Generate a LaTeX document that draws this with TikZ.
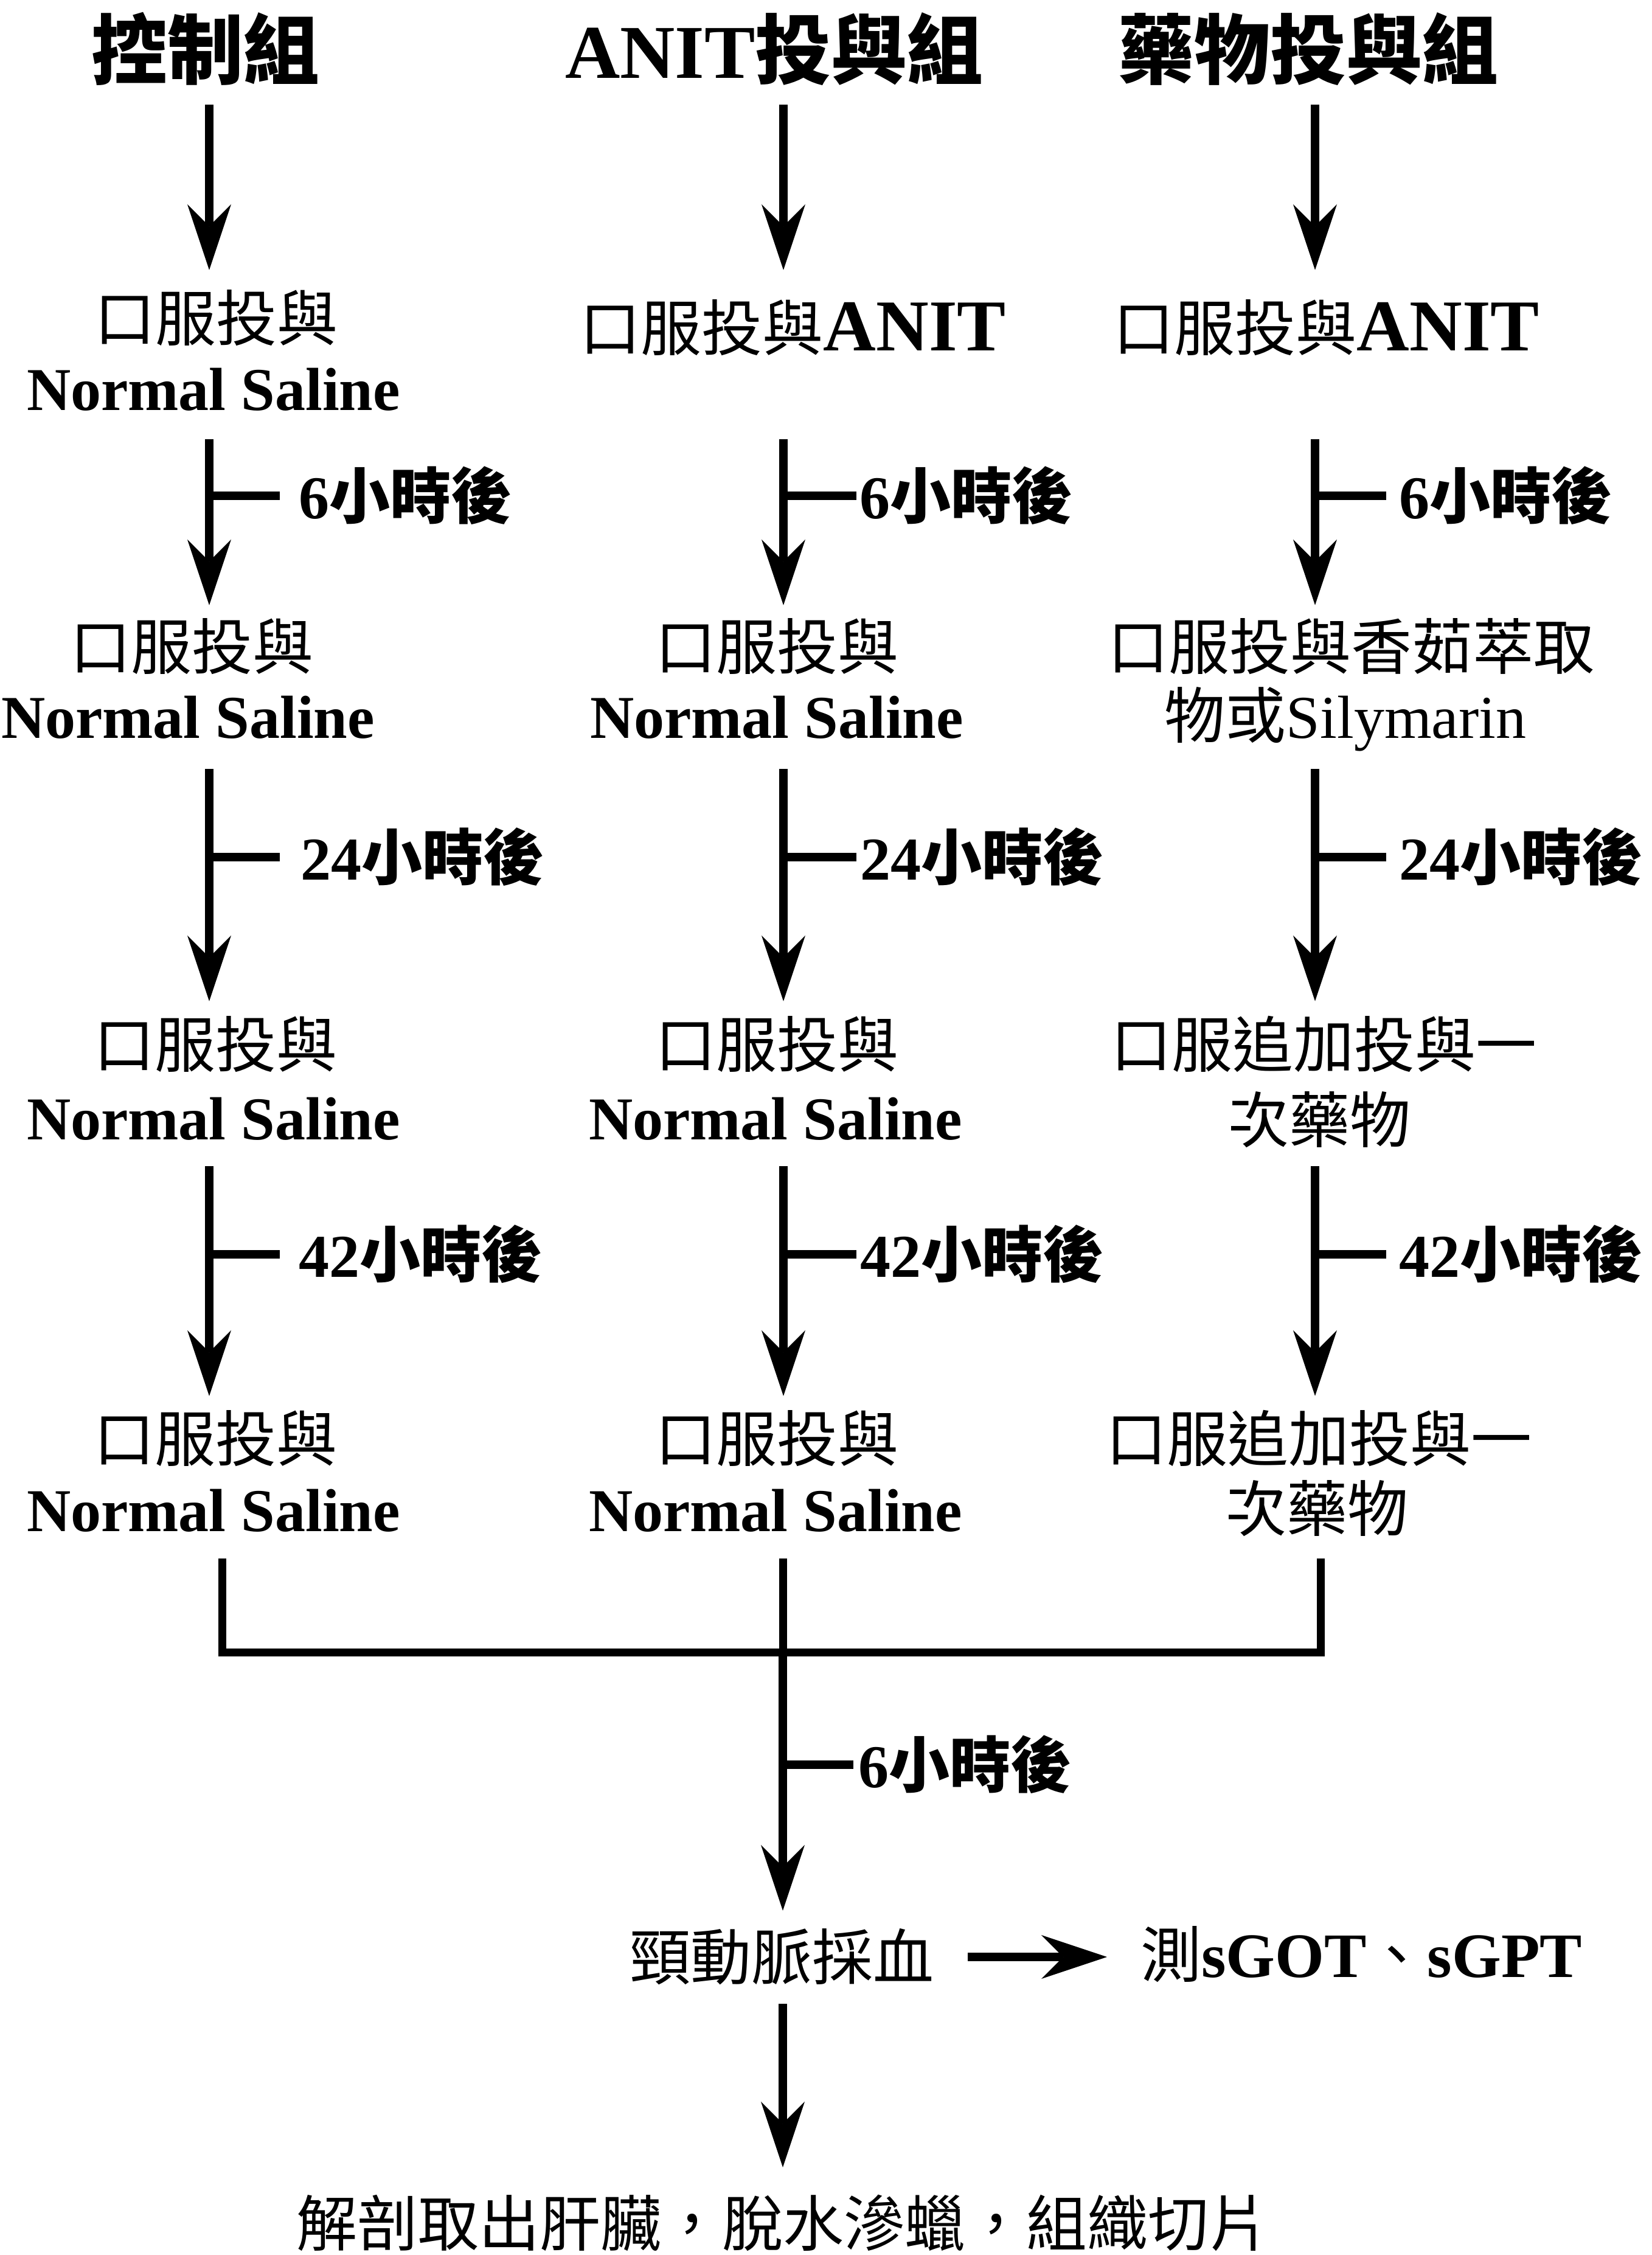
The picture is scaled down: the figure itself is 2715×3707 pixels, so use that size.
\documentclass[tikz,border=0pt]{standalone}
\usepackage{fontspec}
\setmainfont{Liberation Serif}
\newfontfamily\cjk{Noto Sans CJK TC}
\usetikzlibrary{arrows.meta}
\newcommand{\zh}[1]{{\cjk #1}}
\newcommand{\bigL}[1]{{\fontsize{120pt}{120pt}\selectfont\bfseries #1}}
\newcommand{\midL}[1]{{\fontsize{104pt}{104pt}\selectfont\bfseries #1}}
\tikzset{
 body/.style={inner sep=0pt, anchor=base, text height=82pt, text depth=8pt, font=\fontsize{100pt}{114pt}\selectfont},
 bodyL/.style={body, anchor=base west},
 titletext/.style={inner sep=0pt, anchor=base, text height=105pt, text depth=10pt, font=\fontsize{125pt}{140pt}\selectfont\bfseries},
 arr/.style={line width=14pt, -{Stealth[length=108pt,width=72pt,inset=36pt,line width=1pt]}},
 tickline/.style={line width=14pt},
 merge/.style={line width=13pt},
}
\begin{document}
\begin{tikzpicture}[x=1pt,y=-1pt]
\fill[white] (0,0) rectangle (2715,3707);
\useasboundingbox (0,0) rectangle (2715,3707);
% column axes
\coordinate (x1) at (344,0);
\coordinate (x2) at (1288,0);
\coordinate (x3) at (2162,0);
% titles
\node[titletext] (t1) at (338,128) {\zh{控制組}};
\node[titletext] (t2) at (1273,128) {ANIT\zh{投與組}};
\node[titletext] (t3) at (2151,128) {\zh{藥物投與組}};
% row 1
\node[body] (a1) at (355,560) {\zh{口服投與}};
\node[body] (b1) at (351,674) {\bfseries Normal Saline};
\node[body] (a2) at (1304,576) {\zh{口服投與}\bigL{ANIT}};
\node[body] (a3) at (2181,576) {\zh{口服投與}\bigL{ANIT}};
% labels 1
\node[bodyL] (l11) at (491,852) {\bfseries 6\zh{小時後}};
\node[bodyL] (l12) at (1413,852) {\bfseries 6\zh{小時後}};
\node[bodyL] (l13) at (2300,852) {\bfseries 6\zh{小時後}};
% row 2
\node[body] (c1r2a) at (315,1100) {\zh{口服投與}};
\node[body] (c1r2b) at (309,1213) {\bfseries Normal Saline};
\node[body] (c2r2a) at (1277,1100) {\zh{口服投與}};
\node[body] (c2r2b) at (1277,1213) {\bfseries Normal Saline};
\node[body] (c3r2a) at (2221,1100) {\zh{口服投與香茹萃取}};
\node[body] (c3r2b) at (2212,1213) {\zh{物或}Silymarin};
% labels 2
\node[bodyL] (l21) at (494,1446) {\bfseries 24\zh{小時後}};
\node[bodyL] (l22) at (1414,1446) {\bfseries 24\zh{小時後}};
\node[bodyL] (l23) at (2300,1446) {\bfseries 24\zh{小時後}};
% row 3
\node[body] (c1r3a) at (354,1754) {\zh{口服投與}};
\node[body] (c1r3b) at (351,1873) {\bfseries Normal Saline};
\node[body] (c2r3a) at (1277,1754) {\zh{口服投與}};
\node[body] (c2r3b) at (1275,1873) {\bfseries Normal Saline};
\node[body] (c3r3a) at (2176,1754) {\zh{口服追加投與一}};
\node[body] (c3r3b) at (2169,1878) {\zh{次藥物}};
% labels 3
\node[bodyL] (l31) at (491,2099) {\bfseries 42\zh{小時後}};
\node[bodyL] (l32) at (1414,2099) {\bfseries 42\zh{小時後}};
\node[bodyL] (l33) at (2300,2099) {\bfseries 42\zh{小時後}};
% row 4
\node[body] (c1r4a) at (354,2402) {\zh{口服投與}};
\node[body] (c1r4b) at (351,2517) {\bfseries Normal Saline};
\node[body] (c2r4a) at (1277,2402) {\zh{口服投與}};
\node[body] (c2r4b) at (1275,2517) {\bfseries Normal Saline};
\node[body] (c3r4a) at (2168,2402) {\zh{口服追加投與一}};
\node[body] (c3r4b) at (2165,2517) {\zh{次藥物}};
% bottom part
\coordinate (j1) at (365,2716);
\coordinate (j2) at (1287,2716);
\coordinate (j3) at (2171,2716);
\node[bodyL] (l4) at (1411,2938) {\bfseries 6\zh{小時後}};
\node[body] (blood) at (1285,3254) {\zh{頸動脈採血}};
\node[bodyL] (test) at (1875,3250) {\zh{測}\midL{sGOT}\zh{、}\midL{sGPT}};
\node[body] (final) at (1287,3692) {\zh{解剖取出肝臟，脫水滲蠟，組織切片}};
% header arrows
\draw[arr, shorten <=34pt, shorten >=34pt] (t1.south -| x1) -- (a1.north -| x1);
\draw[arr, shorten <=34pt, shorten >=50pt] (t2.south -| x2) -- (a2.north -| x2);
\draw[arr, shorten <=34pt, shorten >=50pt] (t3.south -| x3) -- (a3.north -| x3);
% arrows row 1 -> 2
\draw[arr, shorten <=40pt, shorten >=23pt] (b1.south -| x1) -- (c1r2a.north -| x1);
\draw[arr, shorten <=138pt, shorten >=23pt] (a2.south -| x2) -- (c2r2a.north -| x2);
\draw[arr, shorten <=138pt, shorten >=23pt] (a3.south -| x3) -- (c3r2a.north -| x3);
% arrows row 2 -> 3
\draw[arr, shorten <=43pt, shorten >=26pt] (c1r2b.south -| x1) -- (c1r3a.north -| x1);
\draw[arr, shorten <=43pt, shorten >=26pt] (c2r2b.south -| x2) -- (c2r3a.north -| x2);
\draw[arr, shorten <=43pt, shorten >=26pt] (c3r2b.south -| x3) -- (c3r3a.north -| x3);
% arrows row 3 -> 4
\draw[arr, shorten <=36pt, shorten >=25pt] (c1r3b.south -| x1) -- (c1r4a.north -| x1);
\draw[arr, shorten <=36pt, shorten >=25pt] (c2r3b.south -| x2) -- (c2r4a.north -| x2);
\draw[arr, shorten <=31pt, shorten >=25pt] (c3r3b.south -| x3) -- (c3r4a.north -| x3);
% ticks
\draw[tickline, shorten >=31pt] (l11.west -| x1) -- (l11.west);
\draw[tickline, shorten >=5pt] (l12.west -| x2) -- (l12.west);
\draw[tickline, shorten >=21pt] (l13.west -| x3) -- (l13.west);
\draw[tickline, shorten >=34pt] (l21.west -| x1) -- (l21.west);
\draw[tickline, shorten >=6pt] (l22.west -| x2) -- (l22.west);
\draw[tickline, shorten >=21pt] (l23.west -| x3) -- (l23.west);
\draw[tickline, shorten >=31pt] (l31.west -| x1) -- (l31.west);
\draw[tickline, shorten >=6pt] (l32.west -| x2) -- (l32.west);
\draw[tickline, shorten >=21pt] (l33.west -| x3) -- (l33.west);
% merge
\draw[merge, shorten <=37pt, shorten >=37pt] (c1r4b.south -| j1) -- (j1) -- (j3) -- (c3r4b.south -| j3);
\draw[merge, shorten <=37pt] (c2r4b.south -| j2) -- (j2);
\draw[arr, shorten >=31pt] (j2) -- (blood.north -| j2);
\draw[tickline, shorten >=8pt] (l4.west -| j2) -- (l4.west);
\draw[arr, shorten <=56pt, shorten >=55pt] (blood.east) -- (test.west |- blood.east);
\draw[arr, shorten <=32pt, shorten >=47pt] (blood.south -| j2) -- (final.north -| j2);
\end{tikzpicture}
\end{document}
